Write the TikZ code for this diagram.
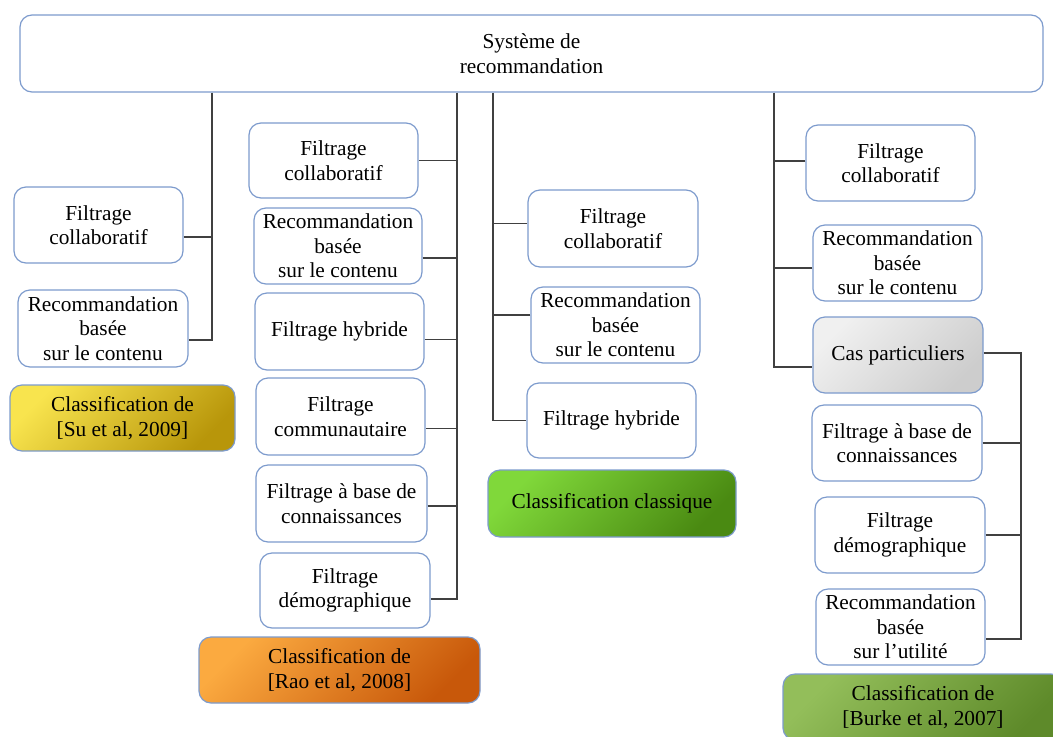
\documentclass[tikz,border=0pt]{standalone}
\usepackage{fontspec}
\setmainfont{Liberation Serif}
\definecolor{boxblue}{RGB}{125,155,205}
\definecolor{connc}{RGB}{64,64,64}
\definecolor{yelA}{RGB}{248,228,78}
\definecolor{yelB}{RGB}{184,150,10}
\definecolor{orA}{RGB}{251,170,64}
\definecolor{orB}{RGB}{200,88,10}
\definecolor{grA}{RGB}{128,216,58}
\definecolor{grB}{RGB}{74,138,18}
\definecolor{bgA}{RGB}{147,190,90}
\definecolor{bgB}{RGB}{94,138,42}
\definecolor{gyA}{RGB}{240,240,240}
\definecolor{gyB}{RGB}{205,205,205}
\begin{document}
\begin{tikzpicture}[x=0.75pt,y=-0.75pt,
  sz/.style 2 args={minimum width=#1*0.75pt, minimum height=#2*0.75pt},
  box/.style={draw=boxblue, line width=0.9pt, rounded corners=9pt, fill=white,
    align=center, inner sep=0pt, font=\fontsize{16}{18.4}\selectfont},
  classbox/.style 2 args={box, top color=#1, bottom color=#2, shading angle=45},
  conn/.style={draw=connc, line width=1pt}]
\useasboundingbox (0,0) rectangle (1053,736);

% top
\node[box, sz={1023}{77}] (top) at (531.5,53.5) {Système de\\recommandation};

% Su et al
\node[box, sz={169}{76}] (su1) at (98.5,225) {Filtrage\\collaboratif};
\node[box, sz={170}{77}] (su2) at (103,328.5) {Recommandation\\basée\\sur le contenu};
\node[classbox={yelA}{yelB}, sz={225}{66}] (suC) at (122.5,418) {Classification de\\{}[Su et al, 2009]};

% Rao et al
\node[box, sz={169}{75}] (r1) at (333.5,160.5) {Filtrage\\collaboratif};
\node[box, sz={168}{76}] (r2) at (338,246) {Recommandation\\basée\\sur le contenu};
\node[box, sz={169}{77}] (r3) at (339.5,331.5) {Filtrage hybride};
\node[box, sz={169}{77}] (r4) at (340.5,416.5) {Filtrage\\communautaire};
\node[box, sz={171}{77}] (r5) at (341.5,503.5) {Filtrage à base de\\connaissances};
\node[box, sz={170}{75}] (r6) at (345,590.5) {Filtrage\\démographique};
\node[classbox={orA}{orB}, sz={281}{66}] (rC) at (339.5,670) {Classification de\\{}[Rao et al, 2008]};

% classique
\node[box, sz={170}{77}] (c1) at (613,228.5) {Filtrage\\collaboratif};
\node[box, sz={169}{76}] (c2) at (615.5,325) {Recommandation\\basée\\sur le contenu};
\node[box, sz={169}{75}] (c3) at (611.5,420.5) {Filtrage hybride};
\node[classbox={grA}{grB}, sz={248}{67}] (cC) at (612,503.5) {Classification classique};

% Burke
\node[box, sz={169}{76}] (b1) at (890.5,163) {Filtrage\\collaboratif};
\node[box, sz={169}{76}] (b2) at (897.5,263) {Recommandation\\basée\\sur le contenu};
\node[classbox={gyA}{gyB}, sz={170}{76}] (b3) at (898,355) {Cas particuliers};
\node[box, sz={170}{76}] (b4) at (897,443) {Filtrage à base de\\connaissances};
\node[box, sz={170}{76}] (b5) at (900,535) {Filtrage\\démographique};
\node[box, sz={169}{76}] (b6) at (900.5,627) {Recommandation\\basée\\sur l’utilité};
\node[classbox={bgA}{bgB}, sz={280}{66}] (bC) at (923,707) {Classification de\\{}[Burke et al, 2007]};

% trunk x positions
\coordinate (tsu) at (212,0);
\coordinate (trao) at (457,0);
\coordinate (tcl) at (493,0);
\coordinate (tbu) at (774,0);
\coordinate (tcas) at (1021,0);

% branch points
\coordinate (su1b) at ([yshift=-9pt]su1.east);
\coordinate (su2b) at ([yshift=-8.6pt]su2.east);
\coordinate (r1b) at (r1.east);
\coordinate (r2b) at ([yshift=-9pt]r2.east);
\coordinate (r3b) at ([yshift=-6pt]r3.east);
\coordinate (r4b) at ([yshift=-9pt]r4.east);
\coordinate (r5b) at ([yshift=-1.9pt]r5.east);
\coordinate (r6b) at ([yshift=-6.4pt]r6.east);
\coordinate (c1b) at ([yshift=3.75pt]c1.west);
\coordinate (c2b) at ([yshift=7.5pt]c2.west);
\coordinate (c3b) at (c3.west);
\coordinate (b1b) at ([yshift=1.5pt]b1.west);
\coordinate (b2b) at ([yshift=-3.75pt]b2.west);
\coordinate (b3b) at ([yshift=-9pt]b3.west);
\coordinate (b3r) at ([yshift=1.5pt]b3.east);
\coordinate (b4b) at (b4.east);
\coordinate (b5b) at (b5.east);
\coordinate (b6b) at ([yshift=-9pt]b6.east);

% Su connectors
\draw[conn] (top.south -| tsu) |- (su2b);
\draw[conn] (su1b) -- (su1b -| tsu);

% Rao connectors
\draw[conn] (top.south -| trao) |- (r6b);
\foreach \n in {r1b,r2b,r3b,r4b,r5b}
  \draw[conn] (\n) -- (\n -| trao);

% classique connectors
\draw[conn] (top.south -| tcl) |- (c3b);
\foreach \n in {c1b,c2b}
  \draw[conn] (\n) -- (\n -| tcl);

% Burke connectors
\draw[conn] (top.south -| tbu) |- (b3b);
\foreach \n in {b1b,b2b}
  \draw[conn] (\n) -- (\n -| tbu);

% Cas particuliers
\draw[conn] (b3r) -| (tcas |- b6b) -- (b6b);
\foreach \n in {b4b,b5b}
  \draw[conn] (\n) -- (\n -| tcas);
\end{tikzpicture}
\end{document}
